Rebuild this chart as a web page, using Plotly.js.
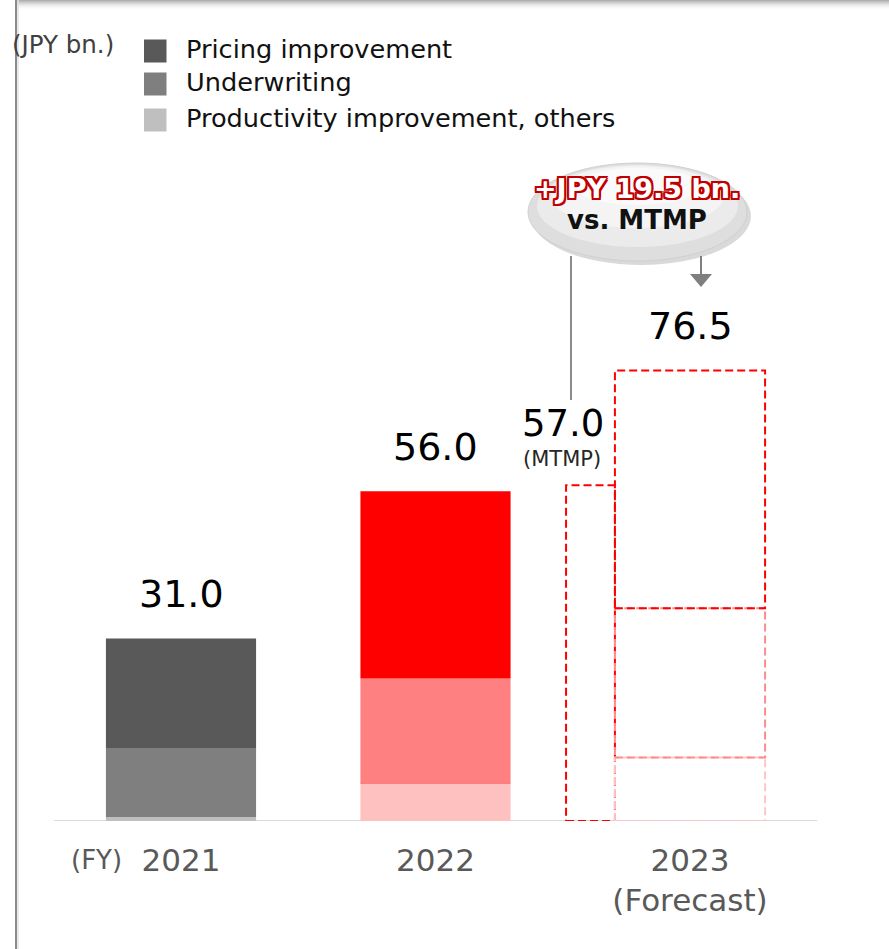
<!DOCTYPE html>
<html><head><meta charset="utf-8">
<script src="https://cdn.plot.ly/plotly-3.0.1.min.js"></script>
<style>html,body{margin:0;padding:0;background:#fff}#chart{width:889px;height:949px}</style>
</head><body><div id="chart"></div>
<script>
// ---------------- data ----------------
const categories = ['2021', '2022', '2023<br>(Forecast)'];
const seriesNames = ['Pricing improvement', 'Underwriting', 'Productivity improvement, others'];
const pricing = [18.6, 31.8, 40.4];
const underwriting = [11.7, 17.8, 25.3];
const productivity = [0.7, 6.4, 10.8];
const totals = [31.0, 56.0, 76.5];
const totalLabels = ['31.0', '56.0', '76.5'];
const mtmpValue = 57.0;
const mtmpLabel = '57.0';
const mtmpNote = '(MTMP)';
const upliftLabel = '+JPY 19.5 bn.';
const upliftSub = 'vs. MTMP';
const unitLabel = '(JPY bn.)';
const fyLabel = '(FY)';

// ---------------- styles ----------------
const TRANSP = 'rgba(0,0,0,0)';
const pricingColors = ['#595959', '#FF0000', TRANSP];
const underwritingColors = ['#7F7F7F', '#FF8080', TRANSP];
const productivityColors = ['#BFBFBF', '#FFC0C0', TRANSP];
const legendColors = ['#595959', '#7F7F7F', '#BFBFBF'];
const forecastIdx = 2;
const forecastDash = {pricing: '#FF0000', underwriting: '#FF8A8A', productivity: '#FFC6C6'};

// ---------------- geometry ----------------
const W = 889, H = 949, MB = 128, PH = H - MB;
const PXU = 5.89;
const yMax = PH / PXU;
const catStep = 254.5;
const xMin = -181 / catStep, xMax = xMin + W / catStep;
const barW = 0.59, mtmpW = 0.192;
const P = x => x / W;
const Q = y => (PH - y) / PH;
const DASH = '8px,4px';

const idx = categories.map((_, i) => i);
const zeros = idx.map(() => 0);
const uwBase = productivity.slice();
const prBase = productivity.map((v, i) => v + underwriting[i]);

const traces = [
  {type: 'bar', name: seriesNames[2], x: idx, y: productivity, base: zeros, width: barW,
   marker: {color: productivityColors, line: {width: 0}}, showlegend: false, hoverinfo: 'y+name'},
  {type: 'bar', name: seriesNames[1], x: idx, y: underwriting, base: uwBase, width: barW,
   marker: {color: underwritingColors, line: {width: 0}}, showlegend: false, hoverinfo: 'y+name'},
  {type: 'bar', name: seriesNames[0], x: idx, y: pricing, base: prBase, width: barW,
   marker: {color: pricingColors, line: {width: 0}}, showlegend: false, hoverinfo: 'y+name'},
  {type: 'bar', name: 'MTMP', x: [forecastIdx], y: [mtmpValue], base: [0], width: mtmpW,
   offset: -(barW / 2 + mtmpW), marker: {color: TRANSP, line: {width: 0}}, showlegend: false, hoverinfo: 'y+name'}
];

const shapes = [];
// top shadow of frame
for (let i = 0; i < 10; i++) {
  const a = 0.55 * Math.pow(1 - i / 10, 2);
  shapes.push({type: 'rect', xref: 'paper', yref: 'paper', x0: P(16), x1: P(W), y0: Q(i), y1: Q(i + 1),
    fillcolor: `rgba(110,110,110,${a.toFixed(3)})`, line: {width: 0}, layer: 'above'});
}
// left frame line
shapes.push({type: 'line', xref: 'paper', yref: 'paper', x0: P(16), x1: P(16), y0: Q(0), y1: Q(H),
  line: {color: '#8a8a8a', width: 2}, layer: 'above'});
shapes.push({type: 'line', xref: 'paper', yref: 'paper', x0: P(18), x1: P(18), y0: Q(0), y1: Q(H),
  line: {color: '#e2e2e2', width: 1.5}, layer: 'above'});

// baseline
shapes.push({type: 'line', xref: 'x', yref: 'y', x0: -0.5, x1: 2.5, y0: 0, y1: 0,
  line: {color: '#D9D9D9', width: 2}, layer: 'below'});

// thin separator in 2022 bar (between productivity and underwriting)
shapes.push({type: 'line', xref: 'x', yref: 'y', x0: 1 - barW / 2, x1: 1 + barW / 2, y0: uwBase[1], y1: uwBase[1],
  line: {color: '#FF7070', width: 1}, layer: 'above'});

// MTMP dashed outline
const mX0 = forecastIdx - barW / 2 - mtmpW, mX1 = forecastIdx - barW / 2;
shapes.push({type: 'rect', xref: 'x', yref: 'y', x0: mX0, x1: mX1, y0: 0, y1: mtmpValue,
  line: {color: '#FF0000', width: 2, dash: DASH}, fillcolor: TRANSP, layer: 'above'});
// forecast dashed outlines
const fX0 = forecastIdx - barW / 2, fX1 = forecastIdx + barW / 2;
shapes.push({type: 'rect', xref: 'x', yref: 'y', x0: fX0, x1: fX1, y0: 0, y1: productivity[forecastIdx],
  line: {color: forecastDash.productivity, width: 2, dash: DASH}, fillcolor: TRANSP, layer: 'above'});
shapes.push({type: 'rect', xref: 'x', yref: 'y', x0: fX0, x1: fX1, y0: uwBase[forecastIdx], y1: prBase[forecastIdx],
  line: {color: forecastDash.underwriting, width: 2, dash: DASH}, fillcolor: TRANSP, layer: 'above'});
shapes.push({type: 'rect', xref: 'x', yref: 'y', x0: fX0, x1: fX1, y0: prBase[forecastIdx], y1: prBase[forecastIdx] + pricing[forecastIdx],
  line: {color: forecastDash.pricing, width: 2, dash: DASH}, fillcolor: TRANSP, layer: 'above'});

// legend swatches
const legendY = [51, 84, 120];
legendY.forEach((cy, i) => {
  shapes.push({type: 'rect', xref: 'paper', yref: 'paper', x0: P(144), x1: P(166.5), y0: Q(cy - 11.5), y1: Q(cy + 11.5),
    fillcolor: legendColors[i], line: {width: 0}});
});

// callout bubble
shapes.push({type: 'circle', xref: 'paper', yref: 'paper', x0: P(531), x1: P(751), y0: Q(167), y1: Q(265),
  fillcolor: 'rgba(0,0,0,0.15)', line: {width: 0}, layer: 'above'});
shapes.push({type: 'circle', xref: 'paper', yref: 'paper', x0: P(528), x1: P(747), y0: Q(163), y1: Q(261),
  fillcolor: '#dedede', line: {color: '#d0d0d0', width: 1}, layer: 'above'});
shapes.push({type: 'circle', xref: 'paper', yref: 'paper', x0: P(537), x1: P(738), y0: Q(165), y1: Q(247),
  fillcolor: '#ebebeb', line: {width: 0}, layer: 'above'});
shapes.push({type: 'circle', xref: 'paper', yref: 'paper', x0: P(552), x1: P(723), y0: Q(166), y1: Q(228),
  fillcolor: '#f4f4f4', line: {width: 0}, layer: 'above'});
shapes.push({type: 'circle', xref: 'paper', yref: 'paper', x0: P(575), x1: P(700), y0: Q(168), y1: Q(205),
  fillcolor: '#fafafa', line: {width: 0}, layer: 'above'});
// connector line to MTMP
shapes.push({type: 'line', xref: 'paper', yref: 'paper', x0: P(571), x1: P(571), y0: Q(256), y1: Q(400),
  line: {color: '#8c8c8c', width: 2}, layer: 'above'});
// arrow to forecast
shapes.push({type: 'line', xref: 'paper', yref: 'paper', x0: P(701), x1: P(701), y0: Q(256), y1: Q(276),
  line: {color: '#7f7f7f', width: 2}, layer: 'above'});
shapes.push({type: 'path', xref: 'paper', yref: 'paper',
  path: `M${P(690)},${Q(274)} L${P(712)},${Q(274)} L${P(701)},${Q(287)} Z`,
  fillcolor: '#7f7f7f', line: {width: 0}, layer: 'above'});

const annotations = [];
const FONT = 'DejaVu Sans, Verdana, sans-serif';
// totals
totals.forEach((v, i) => {
  annotations.push({xref: 'x', yref: 'y', x: i, y: v, text: totalLabels[i], showarrow: false,
    yanchor: 'middle', yshift: 44, font: {family: FONT, size: 38, color: '#000'}});
});
annotations.push({xref: 'x', yref: 'y', x: forecastIdx - barW / 2 - mtmpW / 2, y: mtmpValue, text: mtmpLabel,
  showarrow: false, yanchor: 'middle', xshift: -27, yshift: 62, font: {family: FONT, size: 37, color: '#000'}});
annotations.push({xref: 'x', yref: 'y', x: forecastIdx - barW / 2 - mtmpW / 2, y: mtmpValue, text: mtmpNote,
  showarrow: false, yanchor: 'middle', xshift: -28, yshift: 26, font: {family: FONT, size: 21, color: '#262626'}});
// legend labels
legendY.forEach((cy, i) => {
  annotations.push({xref: 'paper', yref: 'paper', x: P(184), y: Q(cy - 2), xanchor: 'left', yanchor: 'middle',
    text: seriesNames[i], showarrow: false, font: {family: FONT, size: 25.6, color: '#111'}});
});
annotations.push({xref: 'paper', yref: 'paper', x: P(10), y: Q(44), xanchor: 'left', yanchor: 'middle',
  text: unitLabel, showarrow: false, font: {family: FONT, size: 24.5, color: '#404040'}});
annotations.push({xref: 'paper', yref: 'paper', x: P(96), y: Q(860), xanchor: 'center', yanchor: 'middle',
  text: fyLabel, showarrow: false, font: {family: FONT, size: 26, color: '#595959'}});
// callout text
const R = '#C00000';
annotations.push({xref: 'paper', yref: 'paper', x: P(637), y: Q(188), xanchor: 'center', yanchor: 'middle',
  text: '<b>' + upliftLabel + '</b>', showarrow: false,
  font: {family: FONT, size: 27, color: '#ffffff',
    shadow: `2px 0 0 ${R}, -2px 0 0 ${R}, 0 2px 0 ${R}, 0 -2px 0 ${R}, 2px 2px 0 ${R}, -2px -2px 0 ${R}, 2px -2px 0 ${R}, -2px 2px 0 ${R}`}});
annotations.push({xref: 'paper', yref: 'paper', x: P(637), y: Q(220), xanchor: 'center', yanchor: 'middle',
  text: '<b>' + upliftSub + '</b>', showarrow: false, font: {family: FONT, size: 26, color: '#111'}});

const layout = {
  width: W, height: H,
  margin: {l: 0, r: 0, t: 0, b: MB, pad: 0},
  paper_bgcolor: '#ffffff', plot_bgcolor: '#ffffff',
  barmode: 'overlay',
  showlegend: false,
  xaxis: {type: 'linear', range: [xMin, xMax], tickvals: idx, ticktext: categories,
    showgrid: false, zeroline: false, showline: false, ticks: '', automargin: false, fixedrange: true,
    ticklabelstandoff: 18,
    tickfont: {family: FONT, size: 31, color: '#595959'}},
  yaxis: {range: [0, yMax], visible: false, fixedrange: true},
  shapes: shapes,
  annotations: annotations
};

Plotly.newPlot('chart', traces, layout, {displayModeBar: false, staticPlot: true});
</script>
</body></html>
